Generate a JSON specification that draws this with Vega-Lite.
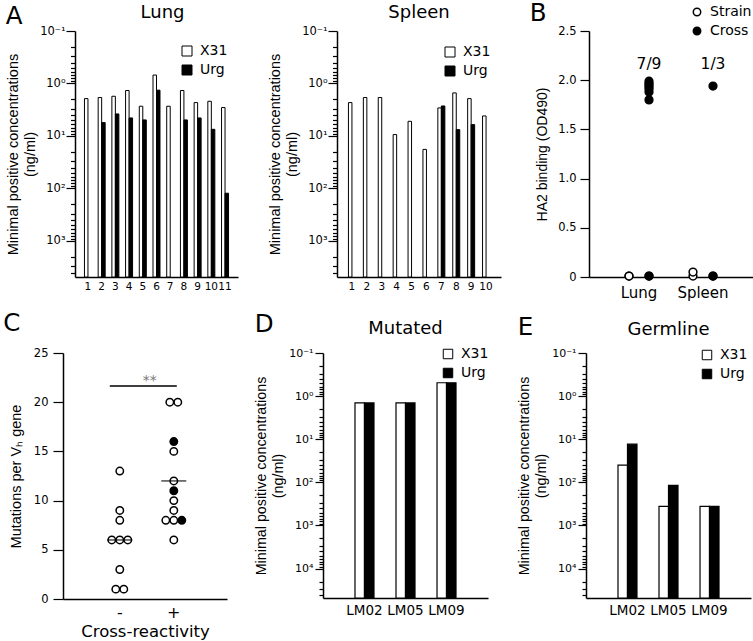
{
  "$schema": "https://vega.github.io/schema/vega-lite/v6.json",
  "padding": {"left": 3, "top": 0, "right": 0, "bottom": 0},
  "background": "white",
  "config": {
    "view": {"stroke": null},
    "font": "DejaVu Sans",
    "axis": {"domainColor": "black", "tickColor": "black", "labelColor": "black", "titleColor": "black", "grid": false, "labelFont": "DejaVu Sans", "titleFont": "Liberation Sans", "titleFontWeight": "normal", "domainWidth": 1.5, "tickWidth": 1.2, "labelOverlap": false},
    "title": {"font": "DejaVu Sans", "fontWeight": "normal", "color": "black", "fontSize": 18},
    "legend": {"labelFont": "DejaVu Sans", "labelFontSize": 14, "labelColor": "black", "symbolStrokeColor": "black", "symbolStrokeWidth": 1, "padding": 0, "rowPadding": 5, "labelOffset": 6}
  },
  "datasets": {
    "lung": [
      {"sample": 1, "series": "X31", "conc": 1.94},
      {"sample": 2, "series": "X31", "conc": 1.85}, {"sample": 2, "series": "Urg", "conc": 5.56},
      {"sample": 3, "series": "X31", "conc": 1.75}, {"sample": 3, "series": "Urg", "conc": 3.8},
      {"sample": 4, "series": "X31", "conc": 1.36}, {"sample": 4, "series": "Urg", "conc": 4.53},
      {"sample": 5, "series": "X31", "conc": 2.71}, {"sample": 5, "series": "Urg", "conc": 4.94},
      {"sample": 6, "series": "X31", "conc": 0.69}, {"sample": 6, "series": "Urg", "conc": 1.34},
      {"sample": 7, "series": "X31", "conc": 2.71},
      {"sample": 8, "series": "X31", "conc": 1.36}, {"sample": 8, "series": "Urg", "conc": 4.94},
      {"sample": 9, "series": "X31", "conc": 2.31}, {"sample": 9, "series": "Urg", "conc": 4.53},
      {"sample": 10, "series": "X31", "conc": 2.18}, {"sample": 10, "series": "Urg", "conc": 7.46},
      {"sample": 11, "series": "X31", "conc": 2.87}, {"sample": 11, "series": "Urg", "conc": 123}
    ],
    "spleen": [
      {"sample": 1, "series": "X31", "conc": 2.31},
      {"sample": 2, "series": "X31", "conc": 1.85},
      {"sample": 3, "series": "X31", "conc": 1.85},
      {"sample": 4, "series": "X31", "conc": 9.4},
      {"sample": 5, "series": "X31", "conc": 5.25},
      {"sample": 6, "series": "X31", "conc": 18},
      {"sample": 7, "series": "X31", "conc": 2.92}, {"sample": 7, "series": "Urg", "conc": 2.68},
      {"sample": 8, "series": "X31", "conc": 1.51}, {"sample": 8, "series": "Urg", "conc": 7.57},
      {"sample": 9, "series": "X31", "conc": 1.94}, {"sample": 9, "series": "Urg", "conc": 6.07},
      {"sample": 10, "series": "X31", "conc": 4.15}
    ],
    "ha2": [
      {"tissue": "Lung", "type": "Strain", "od": 0.01},
      {"tissue": "Lung", "type": "Strain", "od": 0.01},
      {"tissue": "Lung", "type": "Cross", "od": 1.99},
      {"tissue": "Lung", "type": "Cross", "od": 1.97},
      {"tissue": "Lung", "type": "Cross", "od": 1.95},
      {"tissue": "Lung", "type": "Cross", "od": 1.93},
      {"tissue": "Lung", "type": "Cross", "od": 1.91},
      {"tissue": "Lung", "type": "Cross", "od": 1.88},
      {"tissue": "Lung", "type": "Cross", "od": 1.8},
      {"tissue": "Lung", "type": "Cross", "od": 0.01},
      {"tissue": "Lung", "type": "Cross", "od": 0.01},
      {"tissue": "Spleen", "type": "Strain", "od": 0.01},
      {"tissue": "Spleen", "type": "Strain", "od": 0.05},
      {"tissue": "Spleen", "type": "Cross", "od": 1.94},
      {"tissue": "Spleen", "type": "Cross", "od": 0.01},
      {"tissue": "Spleen", "type": "Cross", "od": 0.01}
    ],
    "ha2labels": [
      {"tissue": "Lung", "type": "Cross", "od": 2.16, "label": "7/9"},
      {"tissue": "Spleen", "type": "Cross", "od": 2.16, "label": "1/3"}
    ],
    "mut": [
      {"group": "-", "slot": 3, "value": 13, "kind": "open"},
      {"group": "-", "slot": 3, "value": 9, "kind": "open"},
      {"group": "-", "slot": 3, "value": 8, "kind": "open"},
      {"group": "-", "slot": 1, "value": 6, "kind": "open"},
      {"group": "-", "slot": 3, "value": 6, "kind": "open"},
      {"group": "-", "slot": 5, "value": 6, "kind": "open"},
      {"group": "-", "slot": 3, "value": 3, "kind": "open"},
      {"group": "-", "slot": 2, "value": 1, "kind": "open"},
      {"group": "-", "slot": 4, "value": 1, "kind": "open"},
      {"group": "+", "slot": 2, "value": 20, "kind": "open"},
      {"group": "+", "slot": 4, "value": 20, "kind": "open"},
      {"group": "+", "slot": 3, "value": 16, "kind": "filled"},
      {"group": "+", "slot": 3, "value": 15, "kind": "open"},
      {"group": "+", "slot": 3, "value": 12, "kind": "open"},
      {"group": "+", "slot": 3, "value": 11, "kind": "filled"},
      {"group": "+", "slot": 3, "value": 10, "kind": "open"},
      {"group": "+", "slot": 3, "value": 9, "kind": "open"},
      {"group": "+", "slot": 1, "value": 8, "kind": "open"},
      {"group": "+", "slot": 3, "value": 8, "kind": "open"},
      {"group": "+", "slot": 5, "value": 8, "kind": "filled"},
      {"group": "+", "slot": 3, "value": 6, "kind": "open"}
    ],
    "medians": [
      {"group": "-", "value": 6},
      {"group": "+", "value": 12}
    ],
    "sig": [
      {"from": "-", "to": "+", "y": 21.65, "ylab": 22.2, "label": "**"}
    ],
    "mutated": [
      {"clone": "LM02", "series": "X31", "conc": 1.44}, {"clone": "LM02", "series": "Urg", "conc": 1.44},
      {"clone": "LM05", "series": "X31", "conc": 1.44}, {"clone": "LM05", "series": "Urg", "conc": 1.44},
      {"clone": "LM09", "series": "X31", "conc": 0.49}, {"clone": "LM09", "series": "Urg", "conc": 0.49}
    ],
    "germline": [
      {"clone": "LM02", "series": "X31", "conc": 40}, {"clone": "LM02", "series": "Urg", "conc": 13},
      {"clone": "LM05", "series": "X31", "conc": 360}, {"clone": "LM05", "series": "Urg", "conc": 117},
      {"clone": "LM09", "series": "X31", "conc": 360}, {"clone": "LM09", "series": "Urg", "conc": 360}
    ]
  },
  "spacing": 10,
  "resolve": {"scale": {"fill": "independent", "xOffset": "independent"}, "legend": {"fill": "independent"}},
  "vconcat": [
    {
      "spacing": 28,
      "resolve": {"scale": {"fill": "independent", "xOffset": "independent"}, "legend": {"fill": "independent"}},
      "hconcat": [
        {
          "title": {"text": "A", "anchor": "start", "frame": "bounds", "fontSize": 24.5, "dy": 25, "offset": 0},
          "spacing": 29,
          "resolve": {"scale": {"fill": "independent", "xOffset": "independent"}, "legend": {"fill": "independent"}},
          "hconcat": [
            {
              "width": 175, "height": 246,
              "title": {"text": "Lung", "offset": 3, "dx": 12},
              "data": {"name": "lung"},
              "mark": {"type": "bar", "stroke": "black", "strokeWidth": 1},
              "encoding": {
                "x": {"field": "sample", "type": "ordinal", "scale": {"range": [12, 175], "paddingInner": 0.49, "paddingOuter": 0.69},
                      "axis": {"title": null, "ticks": false, "labelAngle": 0, "labelPadding": 4, "labelFontSize": 10.5}},
                "xOffset": {"field": "series", "type": "nominal", "scale": {"domain": ["X31", "Urg"]}},
                "y": {"field": "conc", "type": "quantitative", "scale": {"type": "log", "domain": [0.1, 4850], "reverse": true, "nice": false},
                      "axis": {"offset": -12, "values": [0.1,0.2,0.3,0.4,0.5,0.6,0.7,0.8,0.9,1,2,3,4,5,6,7,8,9,10,20,30,40,50,60,70,80,90,100,200,300,400,500,600,700,800,900,1000,2000,3000,4000],
                               "labelExpr": "datum.value == 0.1 ? '10⁻¹' : datum.value == 1 ? '10⁰' : datum.value == 10 ? '10¹' : datum.value == 100 ? '10²' : datum.value == 1000 ? '10³' : datum.value == 10000 ? '10⁴' : ''",
                               "tickSize": {"condition": {"test": "indexof([0.1,1,10,100,1000,10000], datum.value) >= 0", "value": 9}, "value": 4.5},
                               "labelPadding": 1, "labelFontSize": 11.5,
                               "title": ["Minimal positive concentrations", "(ng/ml)"], "titleFontSize": 14.5, "titlePadding": 2, "titleLineHeight": 17}},
                "y2": {"datum": 4850},
                "fill": {"field": "series", "type": "nominal", "scale": {"domain": ["X31", "Urg"], "range": ["white", "black"]},
                         "legend": {"title": null, "orient": "none", "legendX": 117, "legendY": 13, "symbolType": "square", "symbolSize": 100}}
              }
            },
            {
              "width": 164, "height": 246,
              "title": {"text": "Spleen", "offset": 3},
              "data": {"name": "spleen"},
              "mark": {"type": "bar", "stroke": "black", "strokeWidth": 1},
              "encoding": {
                "x": {"field": "sample", "type": "ordinal", "scale": {"paddingInner": 0.53, "paddingOuter": 0.768},
                      "axis": {"title": null, "ticks": false, "labelAngle": 0, "labelPadding": 4, "labelFontSize": 10.5}},
                "xOffset": {"field": "series", "type": "nominal", "scale": {"domain": ["X31", "Urg"]}},
                "y": {"field": "conc", "type": "quantitative", "scale": {"type": "log", "domain": [0.1, 4850], "reverse": true, "nice": false},
                      "axis": {"values": [0.1,0.2,0.3,0.4,0.5,0.6,0.7,0.8,0.9,1,2,3,4,5,6,7,8,9,10,20,30,40,50,60,70,80,90,100,200,300,400,500,600,700,800,900,1000,2000,3000,4000],
                               "labelExpr": "datum.value == 0.1 ? '10⁻¹' : datum.value == 1 ? '10⁰' : datum.value == 10 ? '10¹' : datum.value == 100 ? '10²' : datum.value == 1000 ? '10³' : datum.value == 10000 ? '10⁴' : ''",
                               "tickSize": {"condition": {"test": "indexof([0.1,1,10,100,1000,10000], datum.value) >= 0", "value": 9}, "value": 4.5},
                               "labelPadding": 1, "labelFontSize": 11.5,
                               "title": ["Minimal positive concentrations", "(ng/ml)"], "titleFontSize": 14.5, "titlePadding": 2, "titleLineHeight": 17}},
                "y2": {"datum": 4850},
                "fill": {"field": "series", "type": "nominal", "scale": {"domain": ["X31", "Urg"], "range": ["white", "black"]},
                         "legend": {"title": null, "orient": "none", "legendX": 106, "legendY": 14, "symbolType": "square", "symbolSize": 100}}
              }
            }
          ]
        },
        {
          "title": {"text": "B", "anchor": "start", "frame": "bounds", "fontSize": 24.5, "dy": 21, "dx": -6, "offset": 0},
          "resolve": {"scale": {"fill": "independent", "xOffset": "independent"}, "legend": {"fill": "independent"}},
          "vconcat": [
            {
              "width": 164, "height": 246,
              "layer": [
                {
                  "data": {"name": "ha2"},
                  "mark": {"type": "point", "filled": true, "stroke": "black", "strokeWidth": 1.5, "size": 60, "opacity": 1},
                  "encoding": {
                    "x": {"field": "tissue", "type": "nominal", "scale": {"domain": ["Lung", "Spleen"], "paddingInner": 0.375, "paddingOuter": 0.469},
                          "axis": {"title": null, "ticks": false, "labelAngle": 0, "labelPadding": 8, "labelFontSize": 15}},
                    "xOffset": {"field": "type", "type": "nominal", "scale": {"domain": ["Strain", "Cross"]}},
                    "y": {"field": "od", "type": "quantitative", "scale": {"domain": [0, 2.5], "nice": false},
                          "axis": {"values": [0, 0.5, 1, 1.5, 2, 2.5], "labelExpr": "datum.value == 0 ? '0' : format(datum.value, '.1f')", "tickSize": 9, "labelPadding": 4, "labelFontSize": 11.5,
                                   "title": "HA2 binding (OD490)", "titleFontSize": 14, "titlePadding": 8}},
                    "fill": {"field": "type", "type": "nominal", "scale": {"domain": ["Strain", "Cross"], "range": ["white", "black"]},
                             "legend": {"title": null, "orient": "none", "legendX": 101, "legendY": -26, "symbolType": "circle", "symbolSize": 55, "symbolStrokeWidth": 1.5, "rowPadding": 5}}
                  }
                },
                {
                  "data": {"name": "ha2labels"},
                  "mark": {"type": "text", "fontSize": 15.5, "color": "black", "baseline": "middle"},
                  "encoding": {
                    "x": {"field": "tissue", "type": "nominal"},
                    "xOffset": {"field": "type", "type": "nominal"},
                    "y": {"field": "od", "type": "quantitative"},
                    "text": {"field": "label"}
                  }
                }
              ]
            }
          ]
        }
      ]
    },
    {
      "spacing": 27,
      "resolve": {"scale": {"fill": "independent", "xOffset": "independent"}, "legend": {"fill": "independent"}},
      "hconcat": [
        {
          "width": 164, "height": 246,
          "title": {"text": "C", "anchor": "start", "frame": "bounds", "fontSize": 24.5, "offset": 11, "dx": -5},
          "layer": [
            {
              "data": {"name": "mut"},
              "mark": {"type": "point", "filled": true, "stroke": "black", "strokeWidth": 1.5, "size": 55, "opacity": 1},
              "encoding": {
                "x": {"field": "group", "type": "nominal", "scale": {"domain": ["-", "+"], "paddingInner": 0.63, "paddingOuter": 0.833, "align": 0.52},
                      "axis": {"ticks": false, "labelAngle": 0, "labelPadding": 5, "labelFontSize": 16, "title": "Cross-reactivity", "titleFont": "DejaVu Sans", "titleFontSize": 16.5, "titlePadding": 3}},
                "xOffset": {"field": "slot", "type": "ordinal", "scale": {"domain": [1, 2, 3, 4, 5]}},
                "y": {"field": "value", "type": "quantitative", "scale": {"domain": [0, 25], "nice": false},
                      "axis": {"values": [0, 5, 10, 15, 20, 25], "tickSize": 10, "labelPadding": 5, "labelFontSize": 11.5, "title": "Mutations per Vₕ gene", "titleFontSize": 14.5, "titlePadding": 10}},
                "fill": {"field": "kind", "type": "nominal", "scale": {"domain": ["open", "filled"], "range": ["white", "black"]}, "legend": null}
              }
            },
            {
              "data": {"name": "medians"},
              "mark": {"type": "tick", "color": "black", "size": 25, "thickness": 1.5},
              "encoding": {
                "x": {"field": "group", "type": "nominal"},
                "y": {"field": "value", "type": "quantitative"}
              }
            },
            {
              "data": {"name": "sig"},
              "mark": {"type": "rule", "color": "black", "strokeWidth": 1.5},
              "encoding": {
                "x": {"field": "from", "type": "nominal", "bandPosition": 0},
                "x2": {"field": "to", "bandPosition": 0.65},
                "y": {"field": "y", "type": "quantitative"}
              }
            },
            {
              "data": {"name": "sig"},
              "mark": {"type": "text", "color": "#777777", "fontSize": 14, "baseline": "middle"},
              "encoding": {
                "x": {"field": "from", "type": "nominal", "bandPosition": 2},
                "y": {"field": "ylab", "type": "quantitative"},
                "text": {"field": "label"}
              }
            }
          ]
        },
        {
          "spacing": 28,
          "resolve": {"scale": {"fill": "independent", "xOffset": "independent"}, "legend": {"fill": "independent"}},
          "hconcat": [
            {
              "title": {"text": "D", "anchor": "start", "frame": "bounds", "fontSize": 24.5, "dy": 17, "offset": 0},
              "resolve": {"scale": {"fill": "independent", "xOffset": "independent"}, "legend": {"fill": "independent"}},
              "vconcat": [
                {
                  "width": 165, "height": 245,
                  "title": {"text": "Mutated", "offset": 9},
                  "data": {"name": "mutated"},
                  "mark": {"type": "bar", "stroke": "black", "strokeWidth": 1.2},
                  "encoding": {
                    "x": {"field": "clone", "type": "nominal", "scale": {"domain": ["LM02", "LM05", "LM09"], "paddingInner": 0.537, "paddingOuter": 0.78},
                          "axis": {"title": null, "ticks": false, "labelAngle": 0, "labelPadding": 5, "labelFontSize": 13.5}},
                    "xOffset": {"field": "series", "type": "nominal", "scale": {"domain": ["X31", "Urg"]}},
                    "y": {"field": "conc", "type": "quantitative", "scale": {"type": "log", "domain": [0.1, 48000], "reverse": true, "nice": false},
                          "axis": {"values": [0.1,0.2,0.3,0.4,0.5,0.6,0.7,0.8,0.9,1,2,3,4,5,6,7,8,9,10,20,30,40,50,60,70,80,90,100,200,300,400,500,600,700,800,900,1000,2000,3000,4000,5000,6000,7000,8000,9000,10000,20000,30000,40000],
                                   "labelExpr": "datum.value == 0.1 ? '10⁻¹' : datum.value == 1 ? '10⁰' : datum.value == 10 ? '10¹' : datum.value == 100 ? '10²' : datum.value == 1000 ? '10³' : datum.value == 10000 ? '10⁴' : ''",
                                   "tickSize": {"condition": {"test": "indexof([0.1,1,10,100,1000,10000], datum.value) >= 0", "value": 8}, "value": 4},
                                   "labelPadding": 2, "labelFontSize": 11,
                                   "title": ["Minimal positive concentrations", "(ng/ml)"], "titleFontSize": 14.3, "titlePadding": 3, "titleLineHeight": 17}},
                    "y2": {"datum": 48000},
                    "fill": {"field": "series", "type": "nominal", "scale": {"domain": ["X31", "Urg"], "range": ["white", "black"]},
                             "legend": {"title": null, "orient": "none", "legendX": 118, "legendY": -6, "symbolType": "square", "symbolSize": 90}}
                  }
                }
              ]
            },
            {
              "title": {"text": "E", "anchor": "start", "frame": "bounds", "fontSize": 24.5, "dy": 19, "offset": 0},
              "resolve": {"scale": {"fill": "independent", "xOffset": "independent"}, "legend": {"fill": "independent"}},
              "vconcat": [
                {
                  "width": 165, "height": 245,
                  "title": {"text": "Germline", "offset": 8},
                  "data": {"name": "germline"},
                  "mark": {"type": "bar", "stroke": "black", "strokeWidth": 1.2},
                  "encoding": {
                    "x": {"field": "clone", "type": "nominal", "scale": {"domain": ["LM02", "LM05", "LM09"], "paddingInner": 0.537, "paddingOuter": 0.78},
                          "axis": {"title": null, "ticks": false, "labelAngle": 0, "labelPadding": 5, "labelFontSize": 13.5}},
                    "xOffset": {"field": "series", "type": "nominal", "scale": {"domain": ["X31", "Urg"]}},
                    "y": {"field": "conc", "type": "quantitative", "scale": {"type": "log", "domain": [0.1, 48000], "reverse": true, "nice": false},
                          "axis": {"values": [0.1,0.2,0.3,0.4,0.5,0.6,0.7,0.8,0.9,1,2,3,4,5,6,7,8,9,10,20,30,40,50,60,70,80,90,100,200,300,400,500,600,700,800,900,1000,2000,3000,4000,5000,6000,7000,8000,9000,10000,20000,30000,40000],
                                   "labelExpr": "datum.value == 0.1 ? '10⁻¹' : datum.value == 1 ? '10⁰' : datum.value == 10 ? '10¹' : datum.value == 100 ? '10²' : datum.value == 1000 ? '10³' : datum.value == 10000 ? '10⁴' : ''",
                                   "tickSize": {"condition": {"test": "indexof([0.1,1,10,100,1000,10000], datum.value) >= 0", "value": 8}, "value": 4},
                                   "labelPadding": 2, "labelFontSize": 11,
                                   "title": ["Minimal positive concentrations", "(ng/ml)"], "titleFontSize": 14.3, "titlePadding": 3, "titleLineHeight": 17}},
                    "y2": {"datum": 48000},
                    "fill": {"field": "series", "type": "nominal", "scale": {"domain": ["X31", "Urg"], "range": ["white", "black"]},
                             "legend": {"title": null, "orient": "none", "legendX": 114, "legendY": -5, "symbolType": "square", "symbolSize": 90}}
                  }
                }
              ]
            }
          ]
        }
      ]
    }
  ]
}
